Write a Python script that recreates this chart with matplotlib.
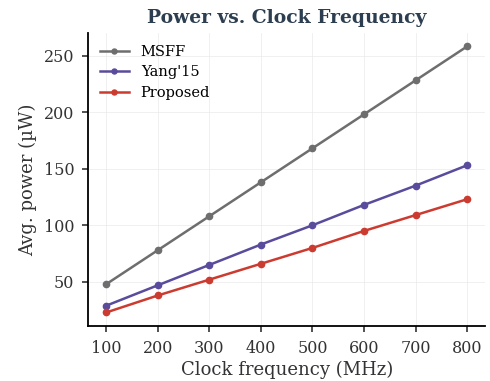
import matplotlib
matplotlib.use("Agg")
import matplotlib.pyplot as plt

freq = [100, 200, 300, 400, 500, 600, 700, 800]
msff = [48, 78, 108, 138, 168, 198, 228, 258]
yang15 = [29, 47, 65, 83, 100, 118, 135, 153]
proposed = [23, 38, 52, 66, 80, 95, 109, 123]

plt.rcParams['font.family'] = ['DejaVu Serif']

fig, ax = plt.subplots(figsize=(4.9, 3.81), dpi=100)
ax.plot(freq, msff, marker='o', markersize=4.5, color='#6e6e6e', linewidth=1.8, label='MSFF')
ax.plot(freq, yang15, marker='o', markersize=4.5, color='#5a4b9c', linewidth=1.8, label="Yang'15")
ax.plot(freq, proposed, marker='o', markersize=4.5, color='#cc3b30', linewidth=1.8, label='Proposed')

ax.set_title('Power vs. Clock Frequency', fontsize=13.5, fontweight='bold', color='#2c3e50', pad=7)
ax.set_xlabel('Clock frequency (MHz)', fontsize=13, color='#333333', labelpad=3)
ax.set_ylabel('Avg. power (\u00b5W)', fontsize=13, color='#333333', labelpad=5)
ax.set_xticks(freq)
ax.set_yticks([50, 100, 150, 200, 250])
ax.tick_params(labelsize=11.5, colors='#333333', length=4.5, width=1.2, pad=5.5)
ax.grid(True, color='#e6e6e6', linewidth=0.6, alpha=0.7)
ax.spines['top'].set_visible(False)
ax.spines['right'].set_visible(False)
ax.spines['left'].set_linewidth(1.3)
ax.spines['bottom'].set_linewidth(1.3)
ax.legend(loc='upper left', frameon=False, fontsize=10.5, markerscale=0.8,
          handlelength=2.0, labelspacing=0.45, borderaxespad=0.4)

fig.subplots_adjust(left=0.18, right=0.99, top=0.913, bottom=0.145)
fig.savefig('out.png', dpi=100)
